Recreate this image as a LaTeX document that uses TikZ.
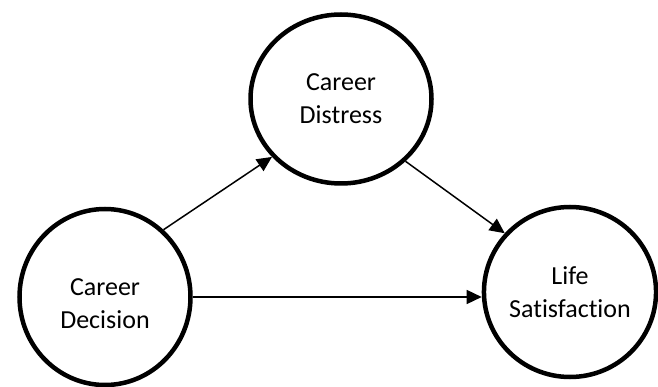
\documentclass[tikz,border=0pt]{standalone}
\usepackage{fontspec}
\setmainfont{Carlito}[Ligatures={NoCommon,NoRare}]
\usetikzlibrary{shapes.geometric,arrows.meta}
\begin{document}
\begin{tikzpicture}[x=1pt,y=-1pt,
  var/.style={draw=black, line width=4.5pt, ellipse, inner sep=0pt},
  txt/.style={align=center, font=\fontsize{26pt}{33pt}\selectfont},
  link/.style={line width=1.5pt, -{Triangle[length=15pt,width=14pt]}}]
\useasboundingbox (0,0) rectangle (658,387);
\node[var, txt, minimum width=181pt, minimum height=169pt] (dis) at (341,99) {Career\\Distress};
\node[var, minimum width=171pt, minimum height=176pt,
  label={[txt, yshift=-7pt]center:Career\\Decision}] (dec) at (105,297) {};
\node[var, txt, minimum width=170pt, minimum height=170pt] (life) at (570,292) {Life\\Satisfaction};
\draw[link] (dec.49.5) -- (dis.220.5);
\draw[link] (dis.316.4) -- (life.138);
\draw[link] (dec.east) -- (dec.east -| life.west);
\end{tikzpicture}
\end{document}
